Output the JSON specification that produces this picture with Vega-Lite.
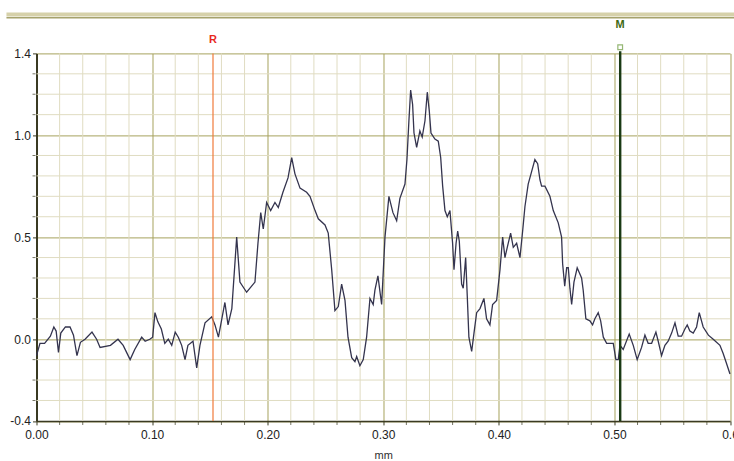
{
  "$schema": "https://vega.github.io/schema/vega-lite/v6.json",
  "width": 693.5,
  "height": 367.5,
  "autosize": "none",
  "padding": {"left": 36.5, "top": 53.4, "right": 4, "bottom": 40},
  "background": "white",
  "config": {
    "view": {"stroke": null},
    "axis": {"labelOverlap": false, "labelFont": "Liberation Sans Narrow, Liberation Sans, Arial", "labelFontSize": 12, "labelColor": "#222222", "titleFont": "Liberation Sans Narrow, Liberation Sans, Arial", "titleFontWeight": "normal", "titleFontSize": 11, "titleColor": "#2e2e2e"}
  },
  "datasets": {
    "profile": [
      {"x":0.000,"y":-0.08},{"x":0.003,"y":-0.02},{"x":0.007,"y":-0.02},{"x":0.012,"y":0.015},{"x":0.015,"y":0.06},{"x":0.017,"y":0.04},{"x":0.019,"y":-0.065},{"x":0.021,"y":0.03},{"x":0.025,"y":0.06},{"x":0.029,"y":0.06},{"x":0.032,"y":0.02},{"x":0.035,"y":-0.08},{"x":0.038,"y":-0.015},{"x":0.042,"y":0.0},{"x":0.048,"y":0.035},{"x":0.052,"y":0.0},{"x":0.055,"y":-0.04},{"x":0.064,"y":-0.03},{"x":0.0705,"y":0.0},{"x":0.075,"y":-0.03},{"x":0.081,"y":-0.10},{"x":0.085,"y":-0.05},{"x":0.091,"y":0.01},{"x":0.094,"y":-0.01},{"x":0.098,"y":0.0},{"x":0.1005,"y":0.01},{"x":0.1025,"y":0.13},{"x":0.105,"y":0.085},{"x":0.108,"y":0.05},{"x":0.111,"y":-0.02},{"x":0.114,"y":0.0},{"x":0.117,"y":-0.03},{"x":0.120,"y":0.035},{"x":0.1227,"y":0.01},{"x":0.1256,"y":-0.03},{"x":0.1285,"y":-0.10},{"x":0.131,"y":-0.03},{"x":0.1354,"y":-0.01},{"x":0.1386,"y":-0.14},{"x":0.1414,"y":-0.03},{"x":0.1458,"y":0.08},{"x":0.1516,"y":0.11},{"x":0.1544,"y":0.07},{"x":0.1574,"y":0.01},{"x":0.163,"y":0.18},{"x":0.1657,"y":0.07},{"x":0.169,"y":0.15},{"x":0.1732,"y":0.50},{"x":0.176,"y":0.28},{"x":0.1818,"y":0.23},{"x":0.189,"y":0.28},{"x":0.1916,"y":0.47},{"x":0.194,"y":0.62},{"x":0.1962,"y":0.54},{"x":0.1991,"y":0.67},{"x":0.2026,"y":0.63},{"x":0.2063,"y":0.67},{"x":0.2092,"y":0.645},{"x":0.2132,"y":0.72},{"x":0.2176,"y":0.79},{"x":0.2208,"y":0.89},{"x":0.2236,"y":0.81},{"x":0.228,"y":0.74},{"x":0.2337,"y":0.72},{"x":0.2366,"y":0.70},{"x":0.241,"y":0.63},{"x":0.2438,"y":0.59},{"x":0.2496,"y":0.56},{"x":0.2524,"y":0.52},{"x":0.2554,"y":0.34},{"x":0.2582,"y":0.14},{"x":0.2611,"y":0.16},{"x":0.264,"y":0.27},{"x":0.2669,"y":0.19},{"x":0.2695,"y":0.01},{"x":0.2727,"y":-0.09},{"x":0.2755,"y":-0.11},{"x":0.277,"y":-0.085},{"x":0.2798,"y":-0.13},{"x":0.2827,"y":-0.10},{"x":0.2856,"y":0.01},{"x":0.2885,"y":0.20},{"x":0.2913,"y":0.17},{"x":0.2928,"y":0.24},{"x":0.2954,"y":0.31},{"x":0.2986,"y":0.17},{"x":0.3015,"y":0.50},{"x":0.3049,"y":0.70},{"x":0.3084,"y":0.62},{"x":0.3116,"y":0.58},{"x":0.3144,"y":0.69},{"x":0.3188,"y":0.76},{"x":0.3205,"y":0.88},{"x":0.3222,"y":1.07},{"x":0.3237,"y":1.22},{"x":0.3254,"y":1.15},{"x":0.3266,"y":1.01},{"x":0.3289,"y":0.94},{"x":0.3317,"y":1.02},{"x":0.3337,"y":0.99},{"x":0.3361,"y":1.07},{"x":0.3381,"y":1.21},{"x":0.3398,"y":1.12},{"x":0.3413,"y":1.01},{"x":0.3447,"y":0.98},{"x":0.3476,"y":0.97},{"x":0.3497,"y":0.89},{"x":0.3514,"y":0.75},{"x":0.3534,"y":0.63},{"x":0.3554,"y":0.60},{"x":0.3577,"y":0.63},{"x":0.36,"y":0.47},{"x":0.3612,"y":0.34},{"x":0.363,"y":0.47},{"x":0.3644,"y":0.53},{"x":0.3658,"y":0.48},{"x":0.3678,"y":0.27},{"x":0.3692,"y":0.25},{"x":0.3713,"y":0.40},{"x":0.3727,"y":0.21},{"x":0.3741,"y":0.01},{"x":0.3765,"y":-0.06},{"x":0.3785,"y":0.03},{"x":0.3808,"y":0.13},{"x":0.3837,"y":0.15},{"x":0.3871,"y":0.20},{"x":0.3894,"y":0.10},{"x":0.3923,"y":0.07},{"x":0.3946,"y":0.17},{"x":0.3981,"y":0.19},{"x":0.401,"y":0.34},{"x":0.4033,"y":0.50},{"x":0.4053,"y":0.40},{"x":0.4073,"y":0.45},{"x":0.4102,"y":0.52},{"x":0.4125,"y":0.45},{"x":0.4154,"y":0.47},{"x":0.4183,"y":0.40},{"x":0.4206,"y":0.53},{"x":0.4226,"y":0.65},{"x":0.4254,"y":0.76},{"x":0.4283,"y":0.82},{"x":0.4312,"y":0.88},{"x":0.4336,"y":0.86},{"x":0.4356,"y":0.78},{"x":0.437,"y":0.75},{"x":0.4399,"y":0.75},{"x":0.4442,"y":0.70},{"x":0.4471,"y":0.63},{"x":0.4514,"y":0.57},{"x":0.4543,"y":0.50},{"x":0.4552,"y":0.37},{"x":0.457,"y":0.26},{"x":0.4587,"y":0.35},{"x":0.4601,"y":0.35},{"x":0.4615,"y":0.25},{"x":0.463,"y":0.17},{"x":0.465,"y":0.28},{"x":0.4678,"y":0.35},{"x":0.4716,"y":0.30},{"x":0.473,"y":0.24},{"x":0.4753,"y":0.10},{"x":0.4788,"y":0.09},{"x":0.4811,"y":0.07},{"x":0.4831,"y":0.10},{"x":0.486,"y":0.13},{"x":0.4881,"y":0.09},{"x":0.4904,"y":0.01},{"x":0.4933,"y":-0.02},{"x":0.499,"y":-0.02},{"x":0.5013,"y":-0.10},{"x":0.5033,"y":-0.10},{"x":0.5048,"y":-0.03},{"x":0.5076,"y":-0.05},{"x":0.5128,"y":0.025},{"x":0.5163,"y":-0.03},{"x":0.5197,"y":-0.10},{"x":0.5235,"y":-0.04},{"x":0.5264,"y":0.02},{"x":0.5292,"y":-0.02},{"x":0.5322,"y":-0.02},{"x":0.5359,"y":0.035},{"x":0.5379,"y":-0.01},{"x":0.5408,"y":-0.08},{"x":0.5437,"y":-0.03},{"x":0.5465,"y":-0.01},{"x":0.5495,"y":0.03},{"x":0.5524,"y":0.08},{"x":0.5552,"y":0.015},{"x":0.5581,"y":0.015},{"x":0.561,"y":0.05},{"x":0.563,"y":0.07},{"x":0.5653,"y":0.04},{"x":0.5682,"y":0.03},{"x":0.5711,"y":0.06},{"x":0.5734,"y":0.13},{"x":0.5768,"y":0.06},{"x":0.5813,"y":0.02},{"x":0.5855,"y":0.0},{"x":0.5913,"y":-0.03},{"x":0.5941,"y":-0.07},{"x":0.5965,"y":-0.11},{"x":0.6,"y":-0.17}
    ],
    "minorX": [
      {"v":0.02},{"v":0.04},{"v":0.06},{"v":0.08},{"v":0.12},{"v":0.14},{"v":0.16},{"v":0.18},{"v":0.22},{"v":0.24},{"v":0.26},{"v":0.28},{"v":0.32},{"v":0.34},{"v":0.36},{"v":0.38},{"v":0.42},{"v":0.44},{"v":0.46},{"v":0.48},{"v":0.52},{"v":0.54},{"v":0.56},{"v":0.58}
    ],
    "minorY": [
      {"v":-0.3},{"v":-0.2},{"v":-0.1},{"v":0.1},{"v":0.2},{"v":0.3},{"v":0.4},{"v":0.6},{"v":0.7},{"v":0.8},{"v":0.9},{"v":1.1},{"v":1.2},{"v":1.3}
    ],
    "markers": [
      {"label": "R", "x": 0.1527},
      {"label": "M", "x": 0.505}
    ]
  },
  "layer": [
    {
      "data": {"name": "minorX"},
      "mark": {"type": "rule", "color": "#e0dcc2", "strokeWidth": 1},
      "encoding": {
        "x": {"field": "v", "type": "quantitative"},
        "y": {"datum": -0.4},
        "y2": {"datum": 1.4}
      }
    },
    {
      "data": {"name": "minorY"},
      "mark": {"type": "rule", "color": "#e0dcc2", "strokeWidth": 1},
      "encoding": {
        "y": {"field": "v", "type": "quantitative"},
        "x": {"datum": 0},
        "x2": {"datum": 0.6}
      }
    },
    {
      "data": {"name": "minorX"},
      "mark": {"type": "tick", "orient": "vertical", "color": "#3a3a22", "size": 3, "thickness": 1, "yOffset": 2.5},
      "encoding": {
        "x": {"field": "v", "type": "quantitative"},
        "y": {"datum": -0.4}
      }
    },
    {
      "data": {"name": "minorY"},
      "mark": {"type": "tick", "orient": "horizontal", "color": "#3a3a22", "size": 3, "thickness": 1, "xOffset": -2.5},
      "encoding": {
        "y": {"field": "v", "type": "quantitative"},
        "x": {"datum": 0}
      }
    },
    {
      "data": {"name": "profile"},
      "mark": {"type": "line", "color": "#34344e", "strokeWidth": 1.3, "interpolate": "linear"},
      "encoding": {
        "x": {
          "field": "x", "type": "quantitative",
          "scale": {"domain": [0, 0.6], "nice": false, "zero": false},
          "axis": {
            "title": "mm",
            "titlePadding": 9,
            "values": [0, 0.1, 0.2, 0.3, 0.4, 0.5, 0.6],
            "format": ".2f",
            "grid": true,
            "gridColor": "#a6a25c",
            "gridOpacity": 1,
            "labelExpr": "datum.value > 0.59 ? '0.6' : datum.label",
            "labelFlush": false,
            "labelOverlap": false,
            "labelPadding": 5,
            "tickSize": 4,
            "tickColor": "#3a3a22",
            "domainColor": "#3a3a22",
            "domainWidth": 1.5
          }
        },
        "y": {
          "field": "y", "type": "quantitative",
          "scale": {"domain": [-0.4, 1.4], "nice": false, "zero": false},
          "axis": {
            "title": null,
            "values": [-0.4, 0, 0.5, 1, 1.4],
            "format": ".1f",
            "grid": true,
            "gridColor": "#a6a25c",
            "gridOpacity": 1,
            "labelExpr": "replace(datum.label, '\u2212', '-')",
            "labelFlush": false,
            "labelOverlap": false,
            "labelPadding": 2,
            "tickSize": 4,
            "tickColor": "#3a3a22",
            "domainColor": "#3a3a22",
            "domainWidth": 2
          }
        }
      }
    },
    {
      "data": {"name": "markers"},
      "transform": [{"filter": "datum.label == 'R'"}],
      "mark": {"type": "rule", "color": "#f07a3a", "strokeWidth": 1.2},
      "encoding": {
        "x": {"field": "x", "type": "quantitative"},
        "y": {"datum": -0.4},
        "y2": {"datum": 1.4}
      }
    },
    {
      "data": {"name": "markers"},
      "transform": [{"filter": "datum.label == 'M'"}],
      "mark": {"type": "rule", "color": "#1a3a14", "strokeWidth": 2.4},
      "encoding": {
        "x": {"field": "x", "type": "quantitative"},
        "y": {"datum": -0.4},
        "y2": {"datum": 1.41}
      }
    },
    {
      "data": {"name": "markers"},
      "transform": [{"filter": "datum.label == 'M'"}],
      "mark": {"type": "square", "filled": false, "stroke": "#6a9a3a", "strokeWidth": 1.2, "size": 22},
      "encoding": {
        "x": {"field": "x", "type": "quantitative"},
        "y": {"datum": 1.43}
      }
    },
    {
      "data": {"name": "markers"},
      "transform": [{"filter": "datum.label == 'R'"}],
      "mark": {"type": "text", "fontWeight": "bold", "fontSize": 11, "font": "Liberation Sans Narrow, Liberation Sans, Arial", "baseline": "middle", "color": "#e8281c"},
      "encoding": {
        "x": {"field": "x", "type": "quantitative"},
        "y": {"datum": 1.466},
        "text": {"field": "label"}
      }
    },
    {
      "data": {"name": "markers"},
      "transform": [{"filter": "datum.label == 'M'"}],
      "mark": {"type": "text", "fontWeight": "bold", "fontSize": 11, "font": "Liberation Sans Narrow, Liberation Sans, Arial", "baseline": "middle", "color": "#3e6a12"},
      "encoding": {
        "x": {"field": "x", "type": "quantitative"},
        "y": {"datum": 1.539},
        "text": {"field": "label"}
      }
    },
    {
      "data": {"values": [{}]},
      "mark": {"type": "rule", "color": "#d6d1aa", "strokeWidth": 4},
      "encoding": {
        "x": {"datum": -0.026},
        "x2": {"datum": 0.62},
        "y": {"datum": 1.59}
      }
    },
    {
      "data": {"values": [{}]},
      "mark": {"type": "rule", "color": "#a6a26c", "strokeWidth": 1.5},
      "encoding": {
        "x": {"datum": -0.026},
        "x2": {"datum": 0.62},
        "y": {"datum": 1.575}
      }
    }
  ]
}
